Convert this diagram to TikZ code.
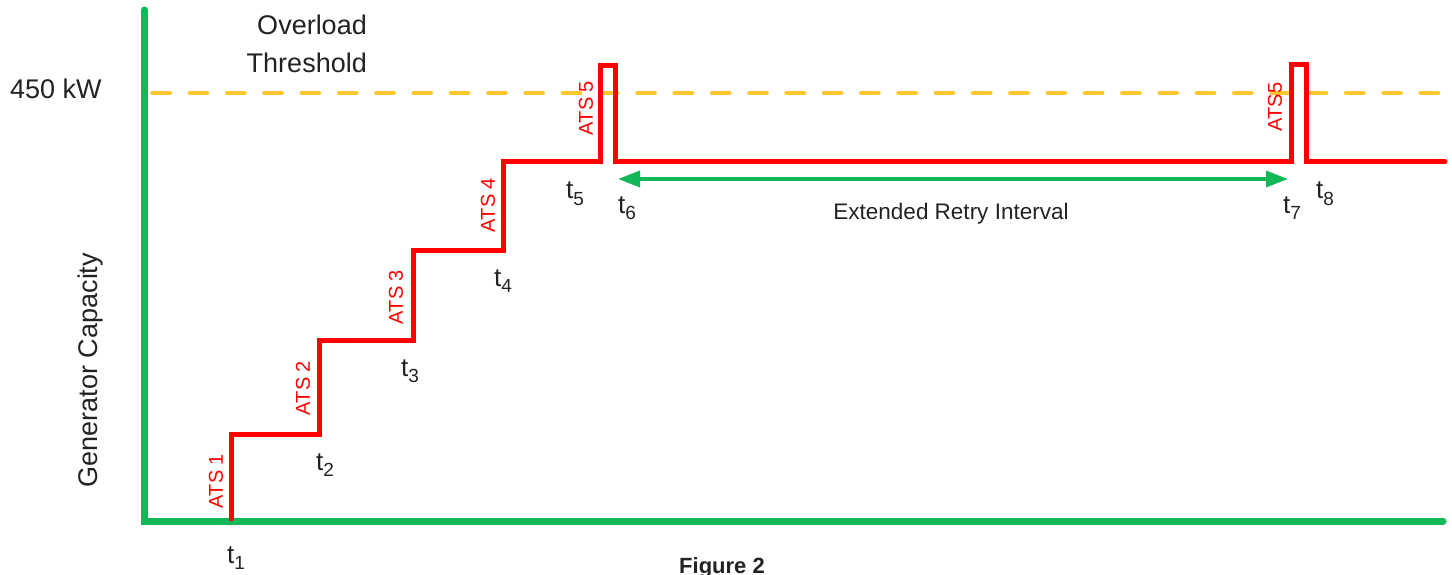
\documentclass[tikz,border=0pt]{standalone}
\usepackage{fontspec}
\setmainfont{Liberation Sans}
\usetikzlibrary{arrows.meta}
\definecolor{axisgreen}{HTML}{12B757}
\definecolor{threshyellow}{HTML}{FFC72C}
\definecolor{loadred}{HTML}{FF0000}
\definecolor{txt}{HTML}{222222}
\newcommand{\tlab}[1]{t\raisebox{-6pt}{\fontsize{19}{19}\selectfont #1}}
\begin{document}
\begin{tikzpicture}[x=1pt,y=-1pt,
  axisline/.style={draw=axisgreen,line width=7pt,line cap=round,line join=miter},
  threshline/.style={draw=threshyellow,line width=4.5pt,line cap=round,dash pattern=on 17.3pt off 20pt},
  loadline/.style={draw=loadred,line width=5pt,line join=miter,line cap=round},
  spanarrow/.style={draw=axisgreen,line width=3.5pt,{Triangle[length=22pt,width=16pt]}-{Triangle[length=22pt,width=16pt]}},
  bigtext/.style={text=txt,font=\fontsize{27}{27}\selectfont,inner sep=0pt},
  tlabel/.style={text=txt,font=\fontsize{26}{26}\selectfont,inner sep=0pt,anchor=base west},
  atslabel/.style={text=loadred,font=\fontsize{20}{20}\selectfont,inner sep=0pt,rotate=90},
  midtext/.style={text=txt,font=\fontsize{22.5}{22.5}\selectfont,inner sep=0pt}]
\useasboundingbox (0,0) rectangle (1452,575);

% axes
\coordinate (ytop) at (144.5,10);
\coordinate (origin) at (144.5,521);
\coordinate (xend) at (1443,521);
\draw[axisline] (ytop) -- (origin) -- (xend);

% threshold
\coordinate (th0) at (152.5,93);
\coordinate (th1) at (1460,93);
\draw[threshline] (th0) -- (th1);

% load staircase
\draw[loadline] (231.5,519) -- (231.5,434.5) -- (319,434.5) -- (319,340) -- (413,340)
  -- (413,250) -- (503,250) -- (503,161.5) -- (600,161.5) -- (600,66) -- (615,66)
  -- (615,161.5) -- (1291.5,161.5) -- (1291.5,64.5) -- (1306,64.5) -- (1306,161.5) -- (1445,161.5);

% retry interval arrow
\coordinate (ra) at (618,179);
\coordinate (rb) at (1288,179);
\draw[spanarrow] (ra) -- (rb);

% texts
\node[bigtext,anchor=base west] (kw) at (10,99) {450 kW};
\node[bigtext,anchor=base east] (ol1) at (367,35) {Overload};
\node[bigtext,anchor=base east] (ol2) at (367,73) {Threshold};
\node[bigtext,rotate=90] (gc) at (91,370) {Generator Capacity};

\node[tlabel] (t1) at (227,563) {\tlab{1}};
\node[tlabel] (t2) at (316,470) {\tlab{2}};
\node[tlabel] (t3) at (401,376) {\tlab{3}};
\node[tlabel] (t4) at (494,286) {\tlab{4}};
\node[tlabel] (t5) at (566,199) {\tlab{5}};
\node[tlabel] (t6) at (618,213) {\tlab{6}};
\node[tlabel] (t7) at (1283,213) {\tlab{7}};
\node[tlabel] (t8) at (1316,199) {\tlab{8}};

\node[atslabel] (a1) at (216,481) {ATS 1};
\node[atslabel] (a2) at (303,388) {ATS 2};
\node[atslabel] (a3) at (396,297) {ATS 3};
\node[atslabel] (a4) at (488,205) {ATS 4};
\node[atslabel] (a5) at (586,108) {ATS 5};
\node[atslabel] (a5b) at (1275,107) {ATS5};

\node[midtext,anchor=base] (eri) at (951,219) {Extended Retry Interval};
\node[midtext,anchor=base,font=\bfseries\fontsize{22}{22}\selectfont] (fig) at (722,573) {Figure 2};
\end{tikzpicture}
\end{document}
